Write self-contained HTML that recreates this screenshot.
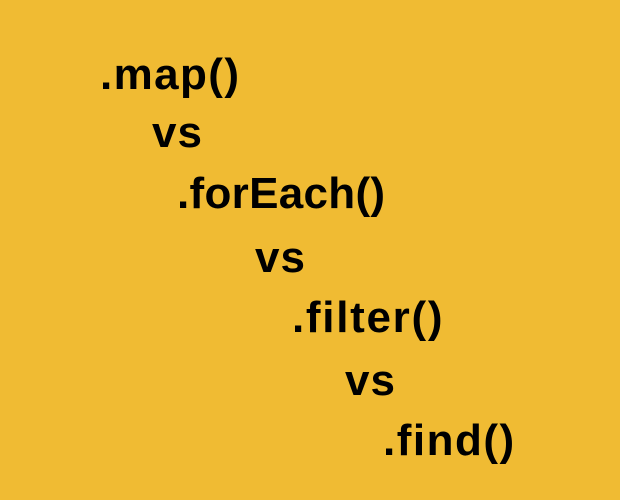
<!DOCTYPE html>
<html><head><meta charset="utf-8"><style>
html,body{margin:0;padding:0}
body{width:620px;height:500px;background:#F0BB33;position:relative;overflow:hidden;font-family:"Liberation Sans",sans-serif;font-weight:bold;color:#000}
div{position:absolute;font-size:44px;line-height:1;white-space:nowrap}
</style></head><body>
<div style="left:100px;top:53px;letter-spacing:1.4px">.map()</div>
<div style="left:152px;top:111px;letter-spacing:1px">vs</div>
<div style="left:177px;top:172px;letter-spacing:0.3px">.forEach()</div>
<div style="left:255px;top:236px;letter-spacing:1px">vs</div>
<div style="left:292px;top:296px;letter-spacing:1.7px">.filter()</div>
<div style="left:345px;top:359px;letter-spacing:1px">vs</div>
<div style="left:383px;top:419px;letter-spacing:1.5px">.find()</div>
</body></html>
